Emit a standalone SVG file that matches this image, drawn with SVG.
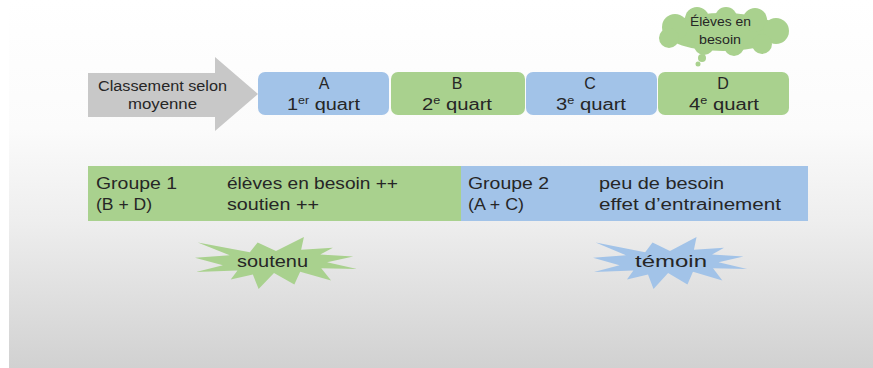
<svg xmlns="http://www.w3.org/2000/svg" width="873" height="368" viewBox="0 0 873 368">
<defs>
<linearGradient id="bg" x1="0" y1="0" x2="0" y2="1">
<stop offset="0" stop-color="#ffffff"/>
<stop offset="0.35" stop-color="#fbfbfb"/>
<stop offset="0.6" stop-color="#eeeeee"/>
<stop offset="1" stop-color="#d1d1d1"/>
</linearGradient>
<path id="seal" d="M10800,5800 L14522,0 L14155,5325 L18380,4457 L16702,7315 L21097,8137 L17607,10475 L21600,13290 L16837,12942 L18145,18095 L14020,14457 L13247,19737 L10532,14935 L8485,21600 L7715,15627 L4762,17617 L5667,13937 L135,14587 L3722,11775 L0,8615 L4627,7617 L370,2295 L7312,6320 L8352,2295 Z"/>
</defs>
<style>
text{font-family:"Liberation Sans",Arial,sans-serif;fill:#262626}
.green{fill:#a9d18e}
.blue{fill:#a2c3e8}
.s14{font-size:14px}
.s16{font-size:16px}
.s13{font-size:13.5px}
.s17{font-size:17px}
.m{text-anchor:middle}
</style>
<rect x="0" y="0" width="873" height="368" fill="#ffffff"/>
<rect x="9" y="0" width="864" height="368" fill="url(#bg)"/>

<g id="arrow">
<polygon points="88,73 215,73 215,57 258,94 215,131 215,117 88,117" fill="#c8c8c8"/>
<text class="s14" x="98" y="91" textLength="129" lengthAdjust="spacingAndGlyphs">Classement selon</text>
<text class="s14" x="128" y="109" textLength="69" lengthAdjust="spacingAndGlyphs">moyenne</text>
</g>

<g id="quartA">
<rect class="blue" x="258" y="72" width="131" height="43" rx="7"/>
<text class="s16 m" x="324" y="89">A</text>
<text class="s16" x="287" y="110" textLength="73" lengthAdjust="spacingAndGlyphs">1<tspan font-size="10" dy="-6">er</tspan><tspan dy="6"> quart</tspan></text>
</g>
<g id="quartB">
<rect class="green" x="391" y="72" width="134" height="43" rx="7"/>
<text class="s16 m" x="457" y="89">B</text>
<text class="s16" x="422" y="110" textLength="70" lengthAdjust="spacingAndGlyphs">2<tspan font-size="10" dy="-6">e</tspan><tspan dy="6"> quart</tspan></text>
</g>
<g id="quartC">
<rect class="blue" x="526" y="72" width="131" height="43" rx="7"/>
<text class="s16 m" x="590" y="89">C</text>
<text class="s16" x="556" y="110" textLength="70" lengthAdjust="spacingAndGlyphs">3<tspan font-size="10" dy="-6">e</tspan><tspan dy="6"> quart</tspan></text>
</g>
<g id="quartD">
<rect class="green" x="658" y="72" width="131" height="43" rx="7"/>
<text class="s16 m" x="723" y="89">D</text>
<text class="s16" x="689" y="110" textLength="70" lengthAdjust="spacingAndGlyphs">4<tspan font-size="10" dy="-6">e</tspan><tspan dy="6"> quart</tspan></text>
</g>

<g id="cloud">
<g class="green">
<ellipse cx="723" cy="32" rx="58" ry="19"/>
<circle cx="675" cy="27" r="13"/>
<circle cx="697" cy="19" r="12"/>
<circle cx="726" cy="18" r="11"/>
<circle cx="755" cy="20" r="12"/>
<circle cx="776" cy="31" r="13"/>
<circle cx="762" cy="44" r="10"/>
<circle cx="734" cy="46" r="10"/>
<circle cx="704" cy="45" r="10"/>
<circle cx="669" cy="38" r="10"/>
<circle cx="702" cy="58" r="4"/>
<circle cx="698" cy="64" r="2.5"/>
</g>
<text class="s13" x="690" y="26" textLength="61" lengthAdjust="spacingAndGlyphs">Élèves en</text>
<text class="s13" x="699" y="44" textLength="42" lengthAdjust="spacingAndGlyphs">besoin</text>
</g>

<g id="groupe1">
<rect class="green" x="88" y="166" width="373" height="55"/>
<text class="s16" x="96" y="189" textLength="81" lengthAdjust="spacingAndGlyphs">Groupe 1</text>
<text class="s16" x="96" y="210" textLength="56" lengthAdjust="spacingAndGlyphs">(B + D)</text>
<text class="s16" x="227" y="189" textLength="171" lengthAdjust="spacingAndGlyphs">élèves en besoin ++</text>
<text class="s16" x="227" y="210" textLength="92" lengthAdjust="spacingAndGlyphs">soutien ++</text>
</g>

<g id="groupe2">
<rect class="blue" x="461" y="166" width="347" height="55"/>
<text class="s16" x="468" y="189" textLength="81" lengthAdjust="spacingAndGlyphs">Groupe 2</text>
<text class="s16" x="468" y="210" textLength="56" lengthAdjust="spacingAndGlyphs">(A + C)</text>
<text class="s16" x="599" y="189" textLength="125" lengthAdjust="spacingAndGlyphs">peu de besoin</text>
<text class="s16" x="599" y="210" textLength="182" lengthAdjust="spacingAndGlyphs">effet d’entrainement</text>
</g>

<g id="soutenu">
<use href="#seal" class="green" transform="translate(195,237) scale(0.0075,0.002407)"/>
<text class="s17" x="237" y="267" textLength="71" lengthAdjust="spacingAndGlyphs">soutenu</text>
</g>

<g id="temoin">
<use href="#seal" class="blue" transform="translate(593,237) scale(0.00713,0.002407)"/>
<text class="s17" x="635" y="267" textLength="72" lengthAdjust="spacingAndGlyphs">témoin</text>
</g>

<g id="connectors"/>
</svg>
